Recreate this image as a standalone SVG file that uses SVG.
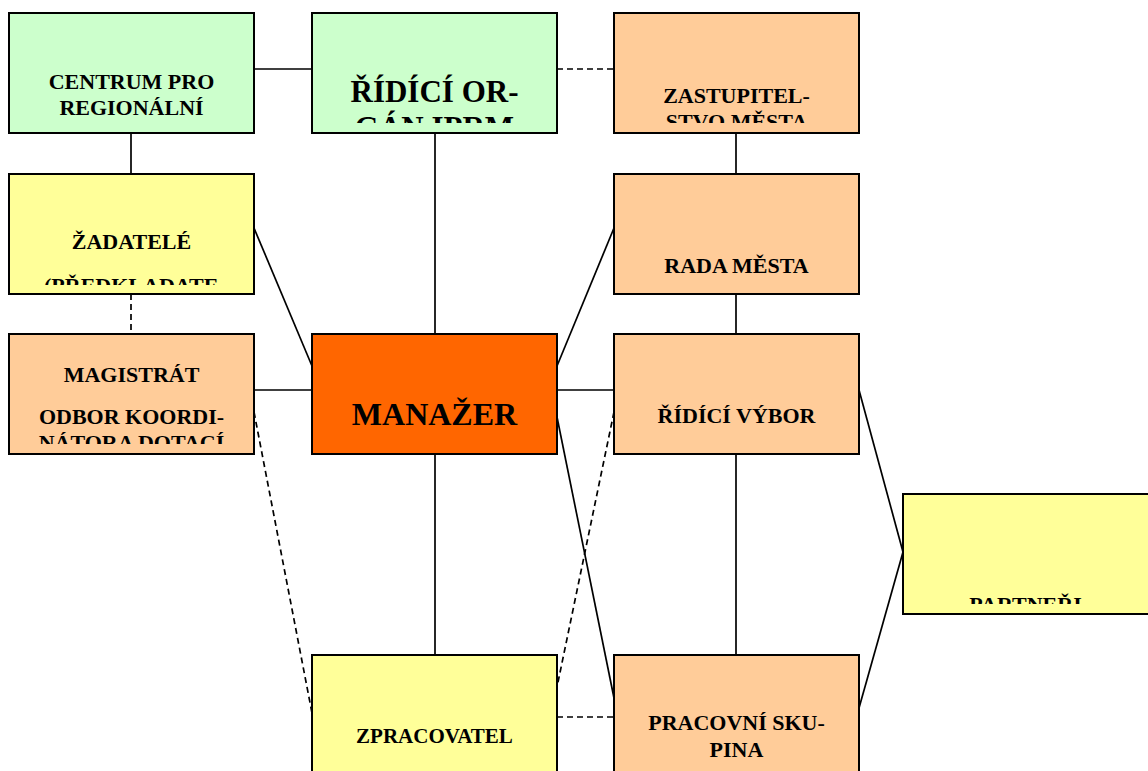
<svg xmlns="http://www.w3.org/2000/svg" width="1148" height="771" viewBox="0 0 1148 771">
<style>
.box{stroke:#000;stroke-width:2}
.g{fill:#CCFFCC}.y{fill:#FFFF99}.o{fill:#FFCC99}.m{fill:#FF6600}
.t{font-family:"Liberation Serif","Times New Roman",serif;font-weight:bold;fill:#000;text-anchor:middle}
.s22{font-size:22px}.s21{font-size:21px}.s31{font-size:31px}.s32{font-size:32px}
.ln{stroke:#000;stroke-width:1.7;fill:none}
.d{stroke-dasharray:6 4}
</style>
<defs>
<clipPath id="cCentrum"><rect x="10" y="14" width="243" height="109"/></clipPath>
<clipPath id="cRidici"><rect x="313" y="14" width="243" height="109"/></clipPath>
<clipPath id="cZast"><rect x="615" y="14" width="243" height="109"/></clipPath>
<clipPath id="cZad"><rect x="10" y="175" width="243" height="110"/></clipPath>
<clipPath id="cMag"><rect x="10" y="335" width="243" height="109"/></clipPath>
<clipPath id="cPart"><rect x="904" y="495" width="243" height="109"/></clipPath>
</defs>
<rect width="1148" height="771" fill="#fff"/>
<g id="connectors">
<line class="ln" x1="254" y1="69" x2="312" y2="69"/>
<line class="ln d" x1="557" y1="69" x2="614" y2="69"/>
<line class="ln" x1="131" y1="133" x2="131" y2="174"/>
<line class="ln d" x1="131" y1="294" x2="131" y2="334"/>
<line class="ln" x1="435" y1="133" x2="435" y2="334"/>
<line class="ln" x1="736" y1="133" x2="736" y2="174"/>
<line class="ln" x1="736" y1="294" x2="736" y2="334"/>
<line class="ln" x1="254" y1="228" x2="312" y2="366"/>
<line class="ln" x1="614" y1="228" x2="557" y2="366"/>
<line class="ln" x1="254" y1="390" x2="312" y2="390"/>
<line class="ln" x1="557" y1="390" x2="614" y2="390"/>
<line class="ln" x1="435" y1="454" x2="435" y2="655"/>
<line class="ln" x1="736" y1="454" x2="736" y2="655"/>
<line class="ln d" x1="254" y1="412" x2="312" y2="713"/>
<line class="ln d" x1="614" y1="412" x2="557" y2="687"/>
<line class="ln" x1="557" y1="417" x2="614" y2="698"/>
<line class="ln d" x1="557" y1="717" x2="614" y2="717"/>
<line class="ln" x1="859" y1="390" x2="903" y2="552"/>
<line class="ln" x1="859" y1="708" x2="903" y2="552"/>
</g>
<g id="centrum">
<rect class="box g" x="9" y="13" width="245" height="120"/>
<g clip-path="url(#cCentrum)">
<text class="t s22" x="131.5" y="89">CENTRUM PRO</text>
<text class="t s22" x="131.5" y="115">REGIONÁLNÍ</text>
</g>
</g>
<g id="ridici-organ">
<rect class="box g" x="312" y="13" width="245" height="120"/>
<g clip-path="url(#cRidici)">
<text class="t s31" x="434.5" y="101.5">ŘÍDÍCÍ OR-</text>
<text class="t s31" x="434.5" y="138">GÁN IPRM</text>
</g>
</g>
<g id="zastupitelstvo">
<rect class="box o" x="614" y="13" width="245" height="120"/>
<g clip-path="url(#cZast)">
<text class="t s22" x="736.5" y="102.5">ZASTUPITEL-</text>
<text class="t s22" x="736.5" y="129">STVO MĚSTA</text>
</g>
</g>
<g id="zadatele">
<rect class="box y" x="9" y="174" width="245" height="120"/>
<g clip-path="url(#cZad)">
<text class="t s22" x="131.5" y="249">ŽADATELÉ</text>
<text class="t s22" x="44" y="292.5" style="text-anchor:start">(PŘEDKLADATE</text>
</g>
</g>
<g id="rada-mesta">
<rect class="box o" x="614" y="174" width="245" height="120"/>
<text class="t s22" x="736.5" y="273">RADA MĚSTA</text>
</g>
<g id="magistrat">
<rect class="box o" x="9" y="334" width="245" height="120"/>
<g clip-path="url(#cMag)">
<text class="t s22" x="131.5" y="381.5">MAGISTRÁT</text>
<text class="t s22" x="131.5" y="424">ODBOR KOORDI-</text>
<text class="t s22" x="131.5" y="450">NÁTORA DOTACÍ</text>
</g>
</g>
<g id="manazer">
<rect class="box m" x="312" y="334" width="245" height="120"/>
<text class="t s32" x="434.5" y="425">MANAŽER</text>
</g>
<g id="ridici-vybor">
<rect class="box o" x="614" y="334" width="245" height="120"/>
<text class="t s22" x="736.5" y="423">ŘÍDÍCÍ VÝBOR</text>
</g>
<g id="partneri">
<rect class="box y" x="903" y="494" width="246" height="120"/>
<g clip-path="url(#cPart)">
<text class="t s22" x="1025.5" y="612">PARTNEŘI</text>
</g>
</g>
<g id="zpracovatel">
<rect class="box y" x="312" y="655" width="245" height="130"/>
<text class="t s21" x="434.5" y="743">ZPRACOVATEL</text>
</g>
<g id="pracovni-skupina">
<rect class="box o" x="614" y="655" width="245" height="130"/>
<text class="t s22" x="736.5" y="730">PRACOVNÍ SKU-</text>
<text class="t s22" x="736.5" y="757">PINA</text>
</g>
</svg>
